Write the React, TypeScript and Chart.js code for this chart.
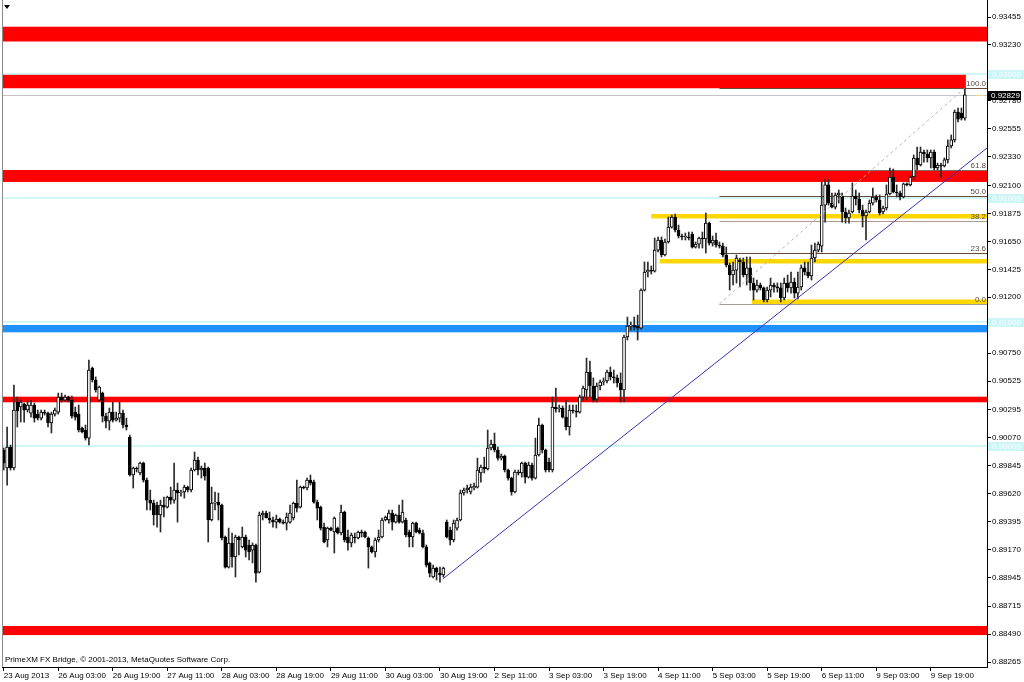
import { useEffect, useRef } from "react";
import { Chart, registerables } from "chart.js";
Chart.register(...registerables);

const FONT = "'Liberation Sans', Arial, sans-serif";

// ---- candle data (H1 bars, 23 Aug 2013 11:00 .. 10 Sep 2013) ----
const opens = [
  0.89971,0.89826,0.89995,0.89826,0.90357,0.90317,0.90341,0.90293,0.90268,0.90333,
  0.90260,0.90228,0.90276,0.90268,0.90188,0.90260,0.90276,0.90397,0.90373,0.90397,
  0.90373,0.90276,0.90260,0.90148,0.90132,0.90067,0.90631,0.90534,0.90373,0.90429,
  0.90244,0.90204,0.90276,0.90212,0.90228,0.90268,0.90172,0.90075,0.89770,0.89826,
  0.89786,0.89866,0.89729,0.89568,0.89544,0.89528,0.89448,0.89528,0.89512,0.89592,
  0.89568,0.89649,0.89625,0.89633,0.89673,0.89649,0.89810,0.89890,0.89810,0.89826,
  0.89826,0.89408,0.89544,0.89552,0.89528,0.89271,0.89029,0.89223,0.89110,0.89271,
  0.89191,0.89271,0.89207,0.89166,0.89207,0.88989,0.89448,0.89464,0.89424,0.89408,
  0.89391,0.89416,0.89391,0.89383,0.89391,0.89424,0.89544,0.89512,0.89673,0.89665,
  0.89729,0.89713,0.89552,0.89512,0.89351,0.89247,0.89343,0.89311,0.89343,0.89303,
  0.89472,0.89271,0.89223,0.89271,0.89263,0.89311,0.89311,0.89263,0.89191,0.89150,
  0.89247,0.89271,0.89408,0.89408,0.89464,0.89391,0.89448,0.89391,0.89408,0.89311,
  0.89271,0.89383,0.89327,0.89303,0.89191,0.89062,0.88949,0.89021,0.88981,0.88965,
  0.89391,0.89327,0.89247,0.89343,0.89408,0.89625,0.89649,0.89633,0.89665,0.89673,
  0.89786,0.89834,0.89818,0.89987,0.90019,0.89971,0.89906,0.89922,0.89810,0.89745,
  0.89633,0.89794,0.89786,0.89866,0.89753,0.89850,0.89745,0.89931,0.90172,0.89971,
  0.89874,0.89810,0.90317,0.90301,0.90309,0.90236,0.90156,0.90293,0.90285,0.90276,
  0.90397,0.90454,0.90598,0.90486,0.90381,0.90486,0.90518,0.90526,0.90598,0.90559,
  0.90551,0.90510,0.90454,0.90880,0.90968,0.90977,0.90968,0.90952,0.91258,0.91403,
  0.91419,0.91411,0.91580,0.91661,0.91540,0.91645,0.91765,0.91846,0.91741,0.91693,
  0.91685,0.91685,0.91709,0.91604,0.91628,0.91677,0.91669,0.91797,0.91636,0.91661,
  0.91620,0.91612,0.91540,0.91460,0.91379,0.91419,0.91500,0.91484,0.91379,0.91436,
  0.91315,0.91258,0.91299,0.91275,0.91178,0.91258,0.91299,0.91283,0.91275,0.91194,
  0.91315,0.91275,0.91323,0.91234,0.91283,0.91436,0.91403,0.91371,0.91516,0.91580,
  0.91612,0.91942,0.92104,0.91958,0.91926,0.92023,0.92015,0.91886,0.91838,0.91886,
  0.92015,0.91991,0.91902,0.91854,0.91886,0.91958,0.92007,0.91983,0.91886,0.91918,
  0.92031,0.92168,0.92047,0.92039,0.92007,0.92112,0.92104,0.92168,0.92321,0.92264,
  0.92369,0.92353,0.92321,0.92369,0.92240,0.92264,0.92256,0.92305,0.92417,0.92466,
  0.92691,0.92683,0.92642,
];
const highs = [
  0.89987,0.90156,0.90011,0.90494,0.90397,0.90373,0.90349,0.90365,0.90373,0.90349,
  0.90293,0.90293,0.90293,0.90276,0.90276,0.90309,0.90429,0.90429,0.90413,0.90405,
  0.90405,0.90317,0.90333,0.90156,0.90172,0.90695,0.90639,0.90559,0.90486,0.90437,
  0.90268,0.90309,0.90357,0.90276,0.90357,0.90293,0.90228,0.90091,0.89834,0.89834,
  0.89874,0.89874,0.89745,0.89649,0.89568,0.89552,0.89568,0.89592,0.89600,0.89673,
  0.89866,0.89705,0.89649,0.89689,0.89681,0.89826,0.89955,0.89914,0.89842,0.89866,
  0.89834,0.89673,0.89633,0.89625,0.89536,0.89279,0.89343,0.89303,0.89287,0.89279,
  0.89351,0.89287,0.89247,0.89223,0.89215,0.89472,0.89480,0.89480,0.89472,0.89432,
  0.89448,0.89424,0.89408,0.89464,0.89528,0.89552,0.89729,0.89681,0.89681,0.89745,
  0.89770,0.89729,0.89568,0.89520,0.89383,0.89351,0.89351,0.89432,0.89351,0.89528,
  0.89480,0.89327,0.89303,0.89303,0.89319,0.89327,0.89319,0.89271,0.89199,0.89263,
  0.89327,0.89424,0.89440,0.89488,0.89488,0.89456,0.89528,0.89568,0.89424,0.89327,
  0.89391,0.89391,0.89343,0.89327,0.89207,0.89070,0.89045,0.89029,0.89029,0.89029,
  0.89408,0.89351,0.89408,0.89424,0.89649,0.89665,0.89689,0.89697,0.89705,0.89906,
  0.89850,0.89914,0.90132,0.90051,0.90108,0.89995,0.89939,0.89931,0.89818,0.89753,
  0.89810,0.89810,0.89874,0.89874,0.89874,0.89866,0.90067,0.90228,0.90180,0.89979,
  0.89906,0.90397,0.90470,0.90333,0.90325,0.90373,0.90333,0.90333,0.90333,0.90413,
  0.90486,0.90711,0.90687,0.90551,0.90510,0.90534,0.90551,0.90615,0.90639,0.90615,
  0.90575,0.90591,0.90896,0.91041,0.91001,0.91041,0.91057,0.91267,0.91484,0.91484,
  0.91452,0.91677,0.91685,0.91685,0.91669,0.91846,0.91862,0.91870,0.91781,0.91709,
  0.91717,0.91725,0.91725,0.91645,0.91685,0.91725,0.91878,0.91805,0.91693,0.91717,
  0.91645,0.91636,0.91604,0.91476,0.91484,0.91540,0.91516,0.91516,0.91524,0.91524,
  0.91355,0.91339,0.91315,0.91283,0.91283,0.91355,0.91315,0.91315,0.91315,0.91355,
  0.91379,0.91403,0.91355,0.91403,0.91460,0.91484,0.91484,0.91620,0.91636,0.91645,
  0.92128,0.92144,0.92144,0.92039,0.92039,0.92063,0.92039,0.91918,0.91902,0.92120,
  0.92063,0.92039,0.91942,0.91902,0.91983,0.92079,0.92023,0.92023,0.91934,0.92104,
  0.92240,0.92232,0.92104,0.92055,0.92120,0.92120,0.92176,0.92345,0.92409,0.92409,
  0.92385,0.92385,0.92385,0.92385,0.92280,0.92280,0.92321,0.92466,0.92506,0.92707,
  0.92723,0.92723,0.92884,
];
const lows = [
  0.89810,0.89689,0.89810,0.89810,0.90156,0.90196,0.90196,0.90276,0.90236,0.90196,
  0.90212,0.90212,0.90252,0.90156,0.90108,0.90244,0.90260,0.90357,0.90365,0.90357,
  0.90228,0.90212,0.90116,0.90108,0.90051,0.90011,0.90518,0.90437,0.90365,0.90196,
  0.90148,0.90132,0.90196,0.90204,0.90196,0.90148,0.90132,0.89761,0.89665,0.89794,
  0.89770,0.89713,0.89488,0.89488,0.89367,0.89351,0.89311,0.89432,0.89504,0.89536,
  0.89544,0.89391,0.89600,0.89584,0.89633,0.89633,0.89802,0.89770,0.89745,0.89729,
  0.89231,0.89400,0.89488,0.89408,0.89247,0.89021,0.89021,0.89029,0.88949,0.89126,
  0.89183,0.89110,0.89086,0.89062,0.88908,0.88981,0.89408,0.89424,0.89383,0.89351,
  0.89343,0.89383,0.89375,0.89327,0.89383,0.89408,0.89472,0.89504,0.89657,0.89649,
  0.89689,0.89544,0.89408,0.89327,0.89223,0.89191,0.89319,0.89142,0.89295,0.89287,
  0.89231,0.89166,0.89191,0.89223,0.89255,0.89271,0.89263,0.89021,0.89142,0.89110,
  0.89231,0.89263,0.89400,0.89383,0.89327,0.89383,0.89383,0.89383,0.89271,0.89191,
  0.89191,0.89303,0.89295,0.89183,0.89029,0.88949,0.88941,0.88925,0.88908,0.88949,
  0.89263,0.89207,0.89231,0.89327,0.89400,0.89608,0.89625,0.89617,0.89649,0.89665,
  0.89713,0.89786,0.89810,0.89971,0.89955,0.89890,0.89890,0.89794,0.89729,0.89608,
  0.89625,0.89770,0.89753,0.89705,0.89745,0.89729,0.89737,0.89922,0.89947,0.89794,
  0.89794,0.89794,0.90276,0.90276,0.90228,0.90132,0.90091,0.90268,0.90236,0.90268,
  0.90373,0.90373,0.90397,0.90357,0.90357,0.90454,0.90494,0.90510,0.90534,0.90510,
  0.90478,0.90357,0.90357,0.90856,0.90936,0.90936,0.90856,0.90944,0.91250,0.91363,
  0.91387,0.91403,0.91564,0.91524,0.91532,0.91636,0.91757,0.91725,0.91677,0.91661,
  0.91661,0.91661,0.91596,0.91596,0.91596,0.91596,0.91556,0.91620,0.91612,0.91604,
  0.91596,0.91524,0.91444,0.91258,0.91299,0.91315,0.91283,0.91363,0.91299,0.91258,
  0.91178,0.91242,0.91258,0.91162,0.91162,0.91202,0.91242,0.91242,0.91162,0.91178,
  0.91242,0.91234,0.91194,0.91186,0.91258,0.91379,0.91355,0.91339,0.91484,0.91564,
  0.91564,0.91805,0.91942,0.91918,0.91910,0.91958,0.91805,0.91797,0.91797,0.91878,
  0.91942,0.91878,0.91765,0.91661,0.91878,0.91942,0.91966,0.91862,0.91870,0.91902,
  0.92023,0.92039,0.92007,0.91983,0.91999,0.92095,0.92095,0.92144,0.92224,0.92256,
  0.92288,0.92288,0.92240,0.92224,0.92224,0.92160,0.92248,0.92280,0.92401,0.92449,
  0.92610,0.92626,0.92626,
];
const closes = [
  0.89866,0.89995,0.89826,0.90293,0.90285,0.90357,0.90293,0.90333,0.90333,0.90228,
  0.90228,0.90276,0.90268,0.90188,0.90260,0.90293,0.90397,0.90373,0.90397,0.90373,
  0.90244,0.90236,0.90132,0.90116,0.90067,0.90615,0.90534,0.90454,0.90478,0.90244,
  0.90204,0.90276,0.90212,0.90228,0.90268,0.90172,0.90156,0.89770,0.89826,0.89818,
  0.89866,0.89729,0.89568,0.89544,0.89448,0.89448,0.89528,0.89512,0.89592,0.89568,
  0.89649,0.89625,0.89633,0.89673,0.89649,0.89810,0.89890,0.89810,0.89826,0.89761,
  0.89408,0.89544,0.89552,0.89528,0.89263,0.89029,0.89223,0.89110,0.89271,0.89247,
  0.89271,0.89166,0.89150,0.89207,0.88981,0.89448,0.89464,0.89424,0.89408,0.89391,
  0.89416,0.89391,0.89383,0.89432,0.89464,0.89544,0.89504,0.89673,0.89665,0.89729,
  0.89705,0.89552,0.89504,0.89343,0.89231,0.89343,0.89327,0.89424,0.89303,0.89472,
  0.89247,0.89223,0.89287,0.89263,0.89311,0.89303,0.89271,0.89191,0.89150,0.89247,
  0.89271,0.89408,0.89432,0.89464,0.89391,0.89448,0.89391,0.89472,0.89287,0.89271,
  0.89383,0.89311,0.89303,0.89191,0.89045,0.88981,0.89021,0.88989,0.88965,0.89021,
  0.89271,0.89247,0.89383,0.89408,0.89625,0.89649,0.89665,0.89673,0.89681,0.89810,
  0.89834,0.89818,0.89987,0.90019,0.89971,0.89906,0.89922,0.89810,0.89745,0.89633,
  0.89794,0.89786,0.89866,0.89753,0.89850,0.89745,0.89931,0.90172,0.89971,0.89810,
  0.89810,0.90317,0.90301,0.90309,0.90236,0.90156,0.90293,0.90285,0.90276,0.90397,
  0.90470,0.90598,0.90486,0.90373,0.90486,0.90518,0.90526,0.90598,0.90559,0.90551,
  0.90510,0.90454,0.90880,0.90968,0.90977,0.90960,0.90952,0.91258,0.91403,0.91419,
  0.91411,0.91580,0.91661,0.91540,0.91645,0.91765,0.91846,0.91741,0.91693,0.91685,
  0.91685,0.91677,0.91604,0.91628,0.91677,0.91669,0.91797,0.91636,0.91661,0.91620,
  0.91612,0.91540,0.91460,0.91379,0.91419,0.91516,0.91484,0.91379,0.91436,0.91315,
  0.91258,0.91299,0.91275,0.91178,0.91258,0.91299,0.91283,0.91275,0.91194,0.91315,
  0.91275,0.91323,0.91234,0.91283,0.91436,0.91403,0.91371,0.91516,0.91580,0.91628,
  0.91942,0.92104,0.91958,0.91926,0.92023,0.92039,0.91886,0.91838,0.91878,0.92015,
  0.91991,0.91902,0.91854,0.91886,0.91958,0.92007,0.91983,0.91878,0.91918,0.92031,
  0.92168,0.92047,0.92039,0.92007,0.92112,0.92104,0.92168,0.92321,0.92264,0.92369,
  0.92353,0.92321,0.92369,0.92240,0.92264,0.92256,0.92305,0.92417,0.92466,0.92691,
  0.92634,0.92642,0.92829,
];

// ---- axis ticks ----
const xTickIndex = [0, 16, 32, 48, 64, 80, 96, 112, 128, 144, 160, 176, 192, 208, 224, 240, 256, 272];
const xTickLabels = [
  "23 Aug 2013", "26 Aug 03:00", "26 Aug 19:00", "27 Aug 11:00", "28 Aug 03:00", "28 Aug 19:00",
  "29 Aug 11:00", "30 Aug 03:00", "30 Aug 19:00", "2 Sep 11:00", "3 Sep 03:00", "3 Sep 19:00",
  "4 Sep 11:00", "5 Sep 03:00", "5 Sep 19:00", "6 Sep 11:00", "9 Sep 03:00", "9 Sep 19:00",
];
const yTickValues = [
  0.93455, 0.9323, 0.93005, 0.9278, 0.92555, 0.9233, 0.921, 0.91875, 0.9165, 0.91425, 0.912, 0.90975,
  0.9075, 0.90525, 0.90295, 0.9007, 0.89845, 0.8962, 0.89395, 0.8917, 0.88945, 0.88715, 0.8849, 0.88265,
];

// ---- drawn objects (prices / bar indexes) ----
const redZones = [
  [0.93377, 0.93258, 288.5],
  [0.9299, 0.92882, 282.3],
  [0.92224, 0.92128, 288.5],
  [0.904, 0.90355, 288.5],
  [0.88555, 0.88482, 288.5],
];
const blueZone = [0.90977, 0.90918];
const yellowZones = [
  [0.9187, 0.91834, 190],
  [0.91508, 0.91472, 192.5],
  [0.91182, 0.91146, 219.5],
];
const roundLevels = [0.93, 0.92, 0.91, 0.9];
const bidPrice = 0.92829;
const fibStart = [210, 0.91146];
const fibEnd = [282, 0.92884];
const fibRatios = [0, 23.6, 38.2, 50, 61.8, 100];
const fibColors = ["#a89c94", "#6b4c3b", "#a89c94", "#6b4c3b", "#7f6e64", "#6b4c3b"];
const trendLine = [
  [128.8, 0.88933],
  [288.5, 0.92401],
];

export default function App() {
  const ref = useRef<HTMLCanvasElement>(null);

  useEffect(() => {
    const canvas = ref.current;
    if (!canvas) return;

    const wickData = closes.map((_, i) => ({ x: i, y: [lows[i], highs[i]] }));
    const bodyData = closes.map((c, i) => ({ x: i, y: [opens[i], c] }));
    const bodyColors = closes.map((c, i) => (c >= opens[i] ? "#ffffff" : "#000000"));

    const overlay = {
      id: "overlay",
      beforeDatasetsDraw(chart: any) {
        const { ctx, chartArea: a, scales } = chart;
        const X = (v: number) => scales.x.getPixelForValue(v);
        const Y = (v: number) => scales.y.getPixelForValue(v);
        ctx.save();
        ctx.beginPath();
        ctx.rect(a.left, a.top, a.right - a.left, a.bottom - a.top);
        ctx.clip();
        ctx.fillStyle = "#d2f6f6";
        roundLevels.forEach((p) => {
          const py = Math.round(Y(p));
          ctx.fillRect(a.left, py - 1, a.right - a.left, 2);
        });
        ctx.fillStyle = "#c4c4c4";
        ctx.fillRect(a.left, Math.round(Y(bidPrice)), a.right - a.left, 1);
        ctx.fillStyle = "#ff0000";
        redZones.forEach(([t, b, e]) => {
          const y1 = Y(t);
          const y2 = Y(b);
          const xr = Math.min(a.right, X(e));
          ctx.fillRect(a.left, y1, xr - a.left, y2 - y1);
        });
        ctx.fillStyle = "#1e90ff";
        ctx.fillRect(a.left, Y(blueZone[0]), a.right - a.left, Y(blueZone[1]) - Y(blueZone[0]));
        const fx = X(fibStart[0]);
        fibRatios.forEach((r, k) => {
          const p = fibStart[1] + ((fibEnd[1] - fibStart[1]) * r) / 100;
          const py = Math.round(Y(p)) + 0.5;
          ctx.strokeStyle = fibColors[k];
          ctx.lineWidth = 1;
          ctx.beginPath();
          ctx.moveTo(fx, py);
          ctx.lineTo(a.right, py);
          ctx.stroke();
        });
        ctx.fillStyle = "#ffd700";
        yellowZones.forEach(([t, b, s]) => {
          const xs = X(s);
          ctx.fillRect(xs, Y(t), a.right - xs, Y(b) - Y(t));
        });
        ctx.restore();
      },
      afterDatasetsDraw(chart: any) {
        const { ctx, chartArea: a, scales } = chart;
        const Y = (v: number) => scales.y.getPixelForValue(v);
        ctx.save();
        ctx.font = `8px ${FONT}`;
        ctx.textAlign = "right";
        ctx.textBaseline = "alphabetic";
        ctx.fillStyle = "#5a4a40";
        fibRatios.forEach((r) => {
          const p = fibStart[1] + ((fibEnd[1] - fibStart[1]) * r) / 100;
          const py = Math.round(Y(p));
          ctx.fillText(r.toFixed(1), a.right - 1, py - 2);
        });
        ctx.strokeStyle = "#f0e070";
        ctx.setLineDash([2, 1]);
        ctx.beginPath();
        const by = Math.round(Y(bidPrice)) + 0.5;
        ctx.moveTo(a.right - 12, by);
        ctx.lineTo(a.right - 4, by);
        ctx.stroke();
        ctx.restore();
      },
      afterDraw(chart: any) {
        const { ctx, chartArea: a, scales } = chart;
        const Y = (v: number) => scales.y.getPixelForValue(v);
        ctx.save();
        ctx.fillStyle = "#8c8c8c";
        ctx.fillRect(a.left, a.top, 1, a.bottom - a.top);
        ctx.font = `8px ${FONT}`;
        ctx.textAlign = "left";
        ctx.textBaseline = "middle";
        roundLevels.forEach((p) => {
          const py = Math.round(Y(p));
          ctx.fillStyle = "#cdf5f5";
          ctx.fillRect(a.right + 1, py - 4, 36, 9);
          ctx.fillStyle = "#f4ffff";
          ctx.fillText(p.toFixed(5), a.right + 5, py + 0.5);
        });
        const bp = Math.round(Y(bidPrice));
        ctx.fillStyle = "#000000";
        ctx.fillRect(a.right + 1, bp - 4, 33, 9);
        ctx.fillStyle = "#ffffff";
        ctx.fillText(bidPrice.toFixed(5), a.right + 4, bp + 0.5);
        ctx.fillStyle = "#000000";
        ctx.textBaseline = "alphabetic";
        ctx.fillText("PrimeXM FX Bridge, \u00a9 2001-2013, MetaQuotes Software Corp.", a.left + 3, a.bottom - 5);
        ctx.beginPath();
        ctx.moveTo(a.left + 2, 5);
        ctx.lineTo(a.left + 8, 5);
        ctx.lineTo(a.left + 5, 9);
        ctx.closePath();
        ctx.fill();
        ctx.restore();
      },
    };

    const tickFont = { family: FONT, size: 8 };

    const chart = new Chart(canvas, {
      type: "bar",
      data: {
        datasets: [
          {
            type: "line",
            data: trendLine.map(([x, y]) => ({ x, y })),
            borderColor: "#3434b4",
            borderWidth: 1,
            pointRadius: 0,
            order: 0,
          } as any,
          {
            type: "line",
            data: [fibStart, fibEnd].map(([x, y]) => ({ x, y })),
            borderColor: "#b4b4b4",
            borderDash: [3, 3],
            borderWidth: 1,
            pointRadius: 0,
            order: 0,
          } as any,
          {
            type: "bar",
            data: bodyData,
            backgroundColor: bodyColors,
            borderColor: "#000000",
            borderWidth: 1,
            borderSkipped: false,
            barThickness: 3,
            minBarLength: 1,
            grouped: false,
            order: 1,
          } as any,
          {
            type: "bar",
            data: wickData,
            backgroundColor: "#2a2a2a",
            borderWidth: 0,
            barThickness: 1,
            grouped: false,
            order: 2,
          } as any,
        ],
      },
      options: {
        animation: false,
        responsive: false,
        devicePixelRatio: 1,
        events: [],
        layout: { padding: { left: 2, top: 0, right: 0, bottom: 0 } },
        plugins: { legend: { display: false }, tooltip: { enabled: false } },
        scales: {
          x: {
            type: "linear",
            min: -0.5,
            max: 288.5,
            bounds: "data",
            offset: false,
            position: "bottom",
            afterBuildTicks: (s: any) => {
              s.ticks = xTickIndex.map((v) => ({ value: v }));
            },
            afterFit: (s: any) => {
              s.height = 15;
              s.paddingLeft = 0;
              s.paddingRight = 0;
            },
            ticks: {
              autoSkip: false,
              maxRotation: 0,
              minRotation: 0,
              align: "start",
              padding: 0,
              color: "#000000",
              font: tickFont,
              callback: (v: any) => {
                const k = xTickIndex.indexOf(Number(v));
                return k >= 0 ? xTickLabels[k] : "";
              },
            },
            grid: { offset: false, drawOnChartArea: false, drawTicks: true, tickLength: 4, color: "#000000" },
            border: { display: true, color: "#000000" },
          },
          y: {
            type: "linear",
            position: "right",
            min: 0.88225,
            max: 0.93592,
            bounds: "data",
            afterBuildTicks: (s: any) => {
              s.ticks = yTickValues.map((v) => ({ value: v }));
            },
            afterFit: (s: any) => {
              s.width = 37;
              s.paddingTop = 0;
              s.paddingBottom = 0;
            },
            ticks: {
              autoSkip: false,
              padding: 1,
              color: "#000000",
              font: tickFont,
              callback: (v: any) => Number(v).toFixed(5),
            },
            grid: { drawOnChartArea: false, drawTicks: true, tickLength: 4, color: "#000000" },
            border: { display: true, color: "#000000" },
          },
        },
      } as any,
      plugins: [overlay],
    });

    return () => chart.destroy();
  }, []);

  return (
    <div style={{ position: "absolute", left: 0, top: 0, width: 1024, height: 682, background: "#ffffff" }}>
      <canvas ref={ref} width={1024} height={682} style={{ display: "block" }} />
    </div>
  );
}
